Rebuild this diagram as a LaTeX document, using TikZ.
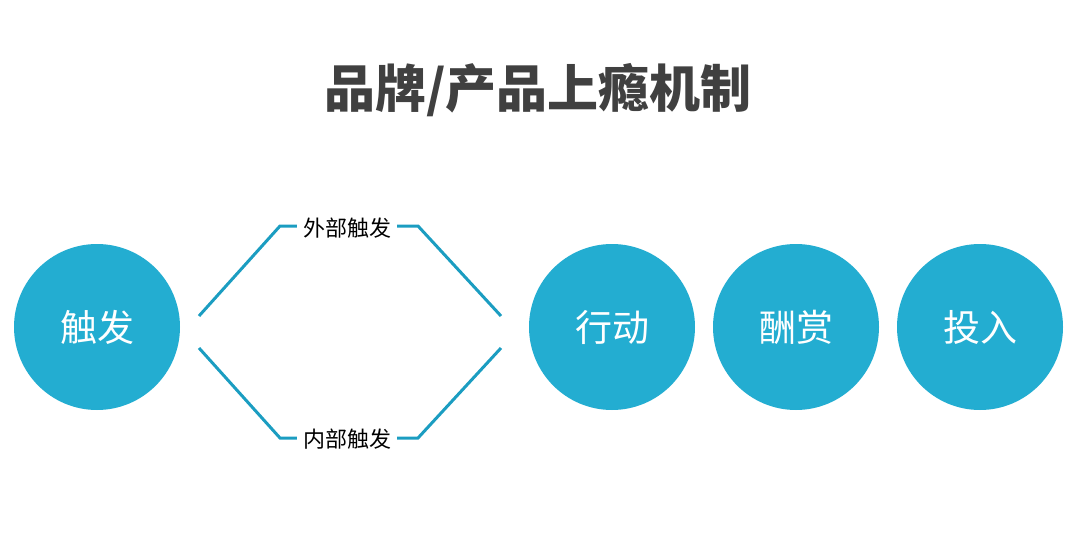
\documentclass[tikz,border=0pt]{standalone}
\usepackage{fontspec}
\newfontfamily\cjk{Noto Sans CJK SC}
\usepackage{tikz}
\usetikzlibrary{positioning}

\definecolor{hookblue}{HTML}{23ADD1}
\definecolor{hookline}{HTML}{1B9DC1}
\definecolor{titlegray}{HTML}{404040}

\begin{document}
\begin{tikzpicture}%
  [x=1pt, y=-1pt,
   node distance=184pt,
   on grid,
   stage/.style={circle, fill=hookblue, minimum size=166pt, inner sep=0pt,
                 text=white, font=\cjk\fontsize{37}{42}\selectfont},
   cue/.style={inner sep=6pt, font=\cjk\fontsize{22}{26}\selectfont},
   link/.style={hookline, line width=3pt}
  ]
\useasboundingbox (0,0) rectangle (1080,557);

\node[text=titlegray, font=\cjk\bfseries\fontsize{51}{60}\selectfont] (title) at (538,90) {品牌/产品上瘾机制};

\node[stage] (trigger) at (97,327)      {触发};
\node[stage] (action)  at (612,327)     {行动};
\node[stage] (reward)  [right=of action] {酬赏};
\node[stage] (invest)  [right=of reward] {投入};

\node[cue] (ext) at (347,228) {外部触发};
\node[cue] (int) at (347,439) {内部触发};

% free ends and bends of the two trigger paths
\coordinate (ext a) at (199,316);
\coordinate (ext b) at (280,226);
\coordinate (ext c) at (418,226);
\coordinate (ext d) at (501,316);
\coordinate (int a) at (199,348);
\coordinate (int b) at (280,438);
\coordinate (int c) at (418,438);
\coordinate (int d) at (501,348);

\draw[link] (ext a) -- (ext b) -- (ext.west |- ext b);
\draw[link] (ext.east |- ext c) -- (ext c) -- (ext d);
\draw[link] (int a) -- (int b) -- (int.west |- int b);
\draw[link] (int.east |- int c) -- (int c) -- (int d);
\end{tikzpicture}
\end{document}
